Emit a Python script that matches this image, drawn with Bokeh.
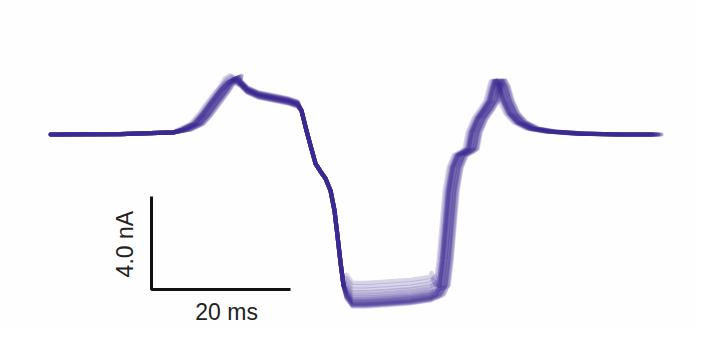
import math
from bokeh.plotting import figure
from bokeh.models import Range1d
from bokeh.embed import file_html
from bokeh.resources import INLINE
from bokeh.core.properties import value

# Base sweep (time in ms, current in nA)
t_ms = [-0.7, 0.0, 9.35, 16.98, 18.71, 20.43, 21.58, 22.73, 24.03, 25.18, 25.90,
        26.62, 27.62, 29.21, 31.37, 33.52, 34.82, 35.39, 36.11, 36.69, 37.41,
        38.13, 38.85, 39.57, 40.14, 40.57, 41.01, 41.44, 41.87, 42.73, 44.60,
        47.48, 51.08, 53.96, 55.11, 55.68, 56.11, 56.55, 56.98, 57.55, 58.27,
        59.28, 59.86, 60.29, 61.15, 62.16, 62.88, 63.31, 63.60, 63.88, 64.31,
        64.89, 65.75, 66.90, 68.63, 71.22, 75.54, 81.29, 86.33]
i_nA = [0.0, 0.0, 0.02, 0.09, 0.22, 0.47, 0.86, 1.33, 1.85, 2.28, 2.41,
        2.19, 1.89, 1.68, 1.55, 1.42, 1.29, 1.03, 0.17, -0.47, -1.25,
        -1.59, -1.89, -2.41, -3.27, -4.34, -5.51, -6.49, -7.05, -7.40, -7.40,
        -7.35, -7.27, -7.14, -6.97, -6.49, -5.42, -3.91, -2.41, -1.42, -0.90,
        -0.73, -0.60, 0.09, 0.69, 1.12, 1.46, 1.98, 2.28, 2.32, 2.06,
        1.46, 0.90, 0.52, 0.26, 0.13, 0.04, 0.0, 0.0]

# Per-sweep differences
plateau_shift_nA = [0.00, 0.03, 0.05, 0.07, 0.09, 0.11, 0.13, 0.16, 0.19, 0.22,
                    0.25, 0.29, 0.33, 0.38, 0.45, 0.53, 0.62, 0.73, 0.87, 1.02]
edge_shift_ms = [0.0, 0.4, -0.3, 0.7, 0.2, -0.4, 0.8, 0.3, -0.2, 0.5,
                 0.0, -0.5, 0.4, 0.9, -0.3, -0.6, -0.4, -0.8, -0.5, -1.0]
hump_shift_nA = [0.00, 0.05, -0.04, 0.08, 0.02, -0.06, 0.10, 0.04, -0.02, 0.06,
                 0.00, -0.08, 0.05, 0.12, -0.03, 0.09, -0.05, 0.14, 0.03, -0.10]

scale_t_ms = 20
scale_i_nA = 4.0
scale_t_label = "20 ms"
scale_i_label = "4.0 nA"

PX_PER_MS = 139 / 20.0
PX_PER_NA = 93 / 4.0
W, H = 696, 329
x0_px, y0_px = 55, 134   # pixel of t=0, i=0

p = figure(width=W, height=H, output_backend="svg", toolbar_location=None,
           min_border=0, x_range=Range1d(-x0_px / PX_PER_MS, (W - x0_px) / PX_PER_MS),
           y_range=Range1d(-(H - y0_px) / PX_PER_NA, y0_px / PX_PER_NA))
p.axis.visible = False
p.grid.visible = False
p.outline_line_color = None
p.background_fill_color = "#fefefe"
p.border_fill_color = "#fefefe"

xs, ys = [], []
for ps, es, hs in zip(plateau_shift_nA, edge_shift_ms, hump_shift_nA):
    tx, iy = [], []
    for t, i in zip(t_ms, i_nA):
        tt = t + es if (t >= 54 or 17 <= t <= 26) else t
        ii = i + ps if 41.8 <= t <= 55.2 else i
        ii = ii + hs if 25.0 <= t <= 35.0 else ii
        tx.append(tt)
        iy.append(ii)
    xs.append(tx)
    ys.append(iy)

p.multi_line(xs=xs, ys=ys, line_color="#3b2a8f", line_alpha=0.2, line_width=4.2,
             line_join="round", line_cap="round")

# scale bar
bx = (151 - x0_px) / PX_PER_MS
by = -(289 - y0_px) / PX_PER_NA
p.line(x=[bx, bx, bx + scale_t_ms], y=[by + scale_i_nA, by, by],
       line_color="#111111", line_width=3)

p.text(x=[bx + scale_t_ms / 2 + 0.8], y=[by - 0.95], text=[scale_t_label],
       text_font=value("Liberation Sans"), text_font_size="23px",
       text_align="center", text_baseline="alphabetic", text_color="#222222")
p.text(x=[bx - 3.85], y=[by + scale_i_nA / 2 - 0.05], text=[scale_i_label],
       angle=math.pi / 2,
       text_font=value("Liberation Sans"), text_font_size="23px",
       text_align="center", text_baseline="alphabetic", text_color="#222222")

open("out.html", "w").write(file_html(p, INLINE))
